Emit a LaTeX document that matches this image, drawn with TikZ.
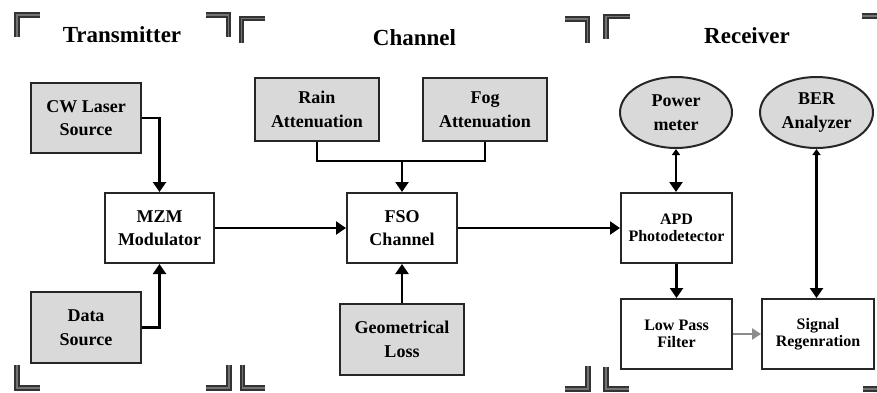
\documentclass[tikz,border=0pt]{standalone}
\usepackage{fontspec}
\setmainfont{Liberation Serif}
\usetikzlibrary{arrows.meta,shapes.geometric}

\tikzset{
  blk/.style={draw=black!85, line width=2pt, align=center, inner sep=0pt,
    font=\bfseries\fontsize{18}{23.5}\selectfont},
  grayblk/.style={blk, fill=black!15},
  rxblk/.style={blk, fill=white, font=\bfseries\fontsize{16}{17.5}\selectfont},
  meter/.style={ellipse, draw=black!85, line width=2pt, fill=black!15, align=center,
    inner sep=0pt, font=\bfseries\fontsize{18}{23.5}\selectfont},
  flow/.style={line width=2.4pt, draw=black, -{Triangle[length=10pt,width=13pt]}},
  twoway/.style={line width=2.4pt, draw=black,
    {Triangle[length=6pt,width=8pt]}-{Triangle[length=10pt,width=13pt]}},
  link/.style={line width=2.4pt, draw=black},
  title/.style={anchor=base, font=\bfseries\fontsize{23}{26}\selectfont},
  bracket/.style={draw=black!80, double=black!55, double distance=1.8pt, line width=1.7pt}
}

\begin{document}
\begin{tikzpicture}[x=1pt, y=-1pt]
  \useasboundingbox (0,0) rectangle (877,392);

  % section titles
  \node[title] (ttx) at (122,42) {Transmitter};
  \node[title] (tch) at (414.5,45) {Channel};
  \node[title] (trx) at (747,43) {Receiver};

  % section frame corners
  \draw[bracket] (40,15) -- (17,15) -- (17,37);
  \draw[bracket] (206,15) -- (228.5,15) -- (228.5,37);
  \draw[bracket] (265,18.5) -- (241.5,18.5) -- (241.5,42.5);
  \draw[bracket] (565,19) -- (587.5,19) -- (587.5,42.5);
  \draw[bracket] (630,16.5) -- (606,16.5) -- (606,39);
  \draw[bracket] (862,16) -- (877,16);
  \draw[bracket] (17,365) -- (17,388) -- (39.5,388);
  \draw[bracket] (206,388) -- (229,388) -- (229,365);
  \draw[bracket] (242.5,365) -- (242.5,388) -- (265,388);
  \draw[bracket] (565,389) -- (588,389) -- (588,366);
  \draw[bracket] (606,367) -- (606,389) -- (629,389);
  \draw[bracket] (863,389) -- (877,389);

  % transmitter
  \node[grayblk, minimum width=110pt, minimum height=70pt] (cw) at (86,118) {CW Laser\\Source};
  \node[blk, fill=white, minimum width=109pt, minimum height=70pt] (mzm) at (159.5,228) {MZM\\Modulator};
  \node[grayblk, minimum width=110pt, minimum height=71pt] (data) at (86,327.5) {Data\\Source};

  % channel
  \node[grayblk, minimum width=124pt, minimum height=63pt] (rain) at (317,109.5) {Rain\\Attenuation};
  \node[grayblk, minimum width=124pt, minimum height=63pt] (fog) at (485,109.5) {Fog\\Attenuation};
  \node[blk, fill=white, minimum width=110pt, minimum height=70pt] (fso) at (402,228) {FSO\\Channel};
  \node[grayblk, minimum width=124pt, minimum height=71pt] (geo) at (402,339.5) {Geometrical\\Loss};

  % receiver
  \node[meter, minimum width=112pt, minimum height=71pt] (pwr) at (676,112.5) {Power\\meter};
  \node[meter, minimum width=113pt, minimum height=71pt] (ber) at (816.5,112.5) {BER\\Analyzer};
  \node[rxblk, minimum width=111pt, minimum height=70pt] (apd) at (676.5,228) {APD\\Photodetector};
  \node[rxblk, minimum width=111pt, minimum height=70pt] (lpf) at (676.5,334) {Low Pass\\Filter};
  \node[rxblk, minimum width=112pt, minimum height=70pt] (sr) at (818,334) {Signal\\Regenration};

  % connectors
  \draw[flow] (cw.east) -| (mzm.north);
  \draw[flow] (data.east) -| (mzm.south);
  \draw[flow] (mzm.east) -- (fso.west);

  \coordinate (join) at (402,161);
  \draw[link] (rain.south) |- (join) -| (fog.south);
  \draw[flow] (join) -- (fso.north);
  \draw[flow] (geo.north) -- (fso.south);
  \draw[flow] (fso.east) -- (apd.west);

  \draw[twoway] (pwr.south) -- (pwr.south |- apd.north);
  \draw[twoway] (ber.south) -- (ber.south |- sr.north);
  \draw[flow] (apd.south) -- (lpf.north);
  \draw[line width=2.4pt, draw=black!45, -{Triangle[length=9pt,width=11pt]}] (lpf.east) -- (sr.west);
\end{tikzpicture}
\end{document}
